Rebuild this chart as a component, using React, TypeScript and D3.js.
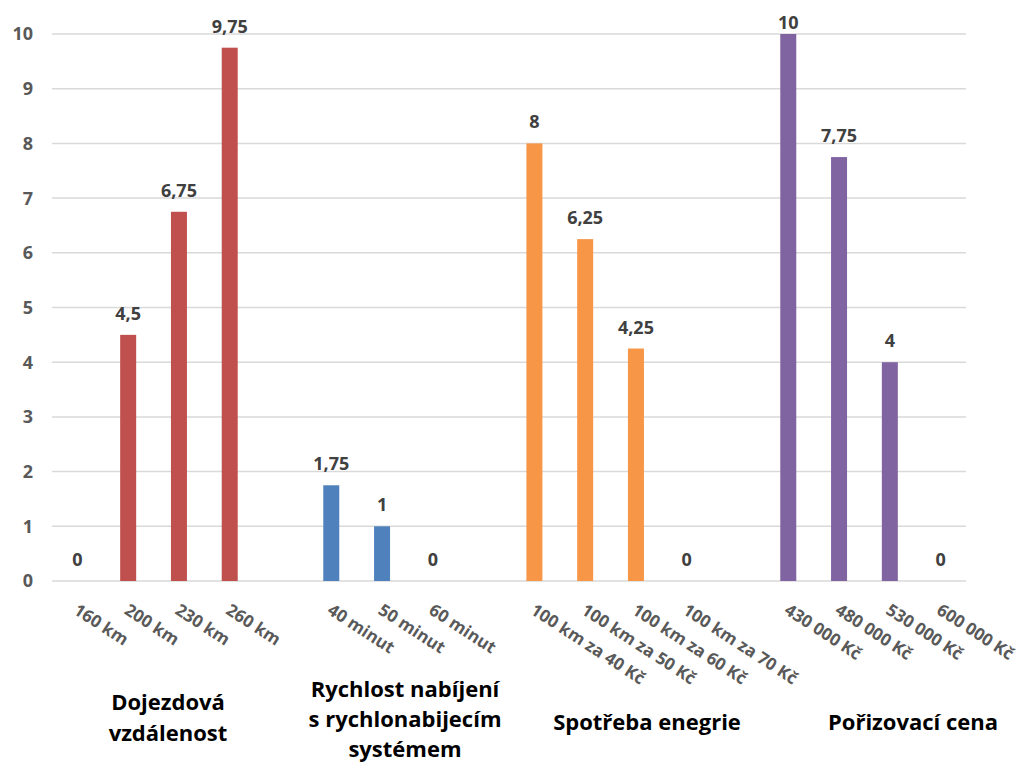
import React from "react";
import * as d3 from "d3";

// Score of each option within the four evaluated criteria
const rangeCategories = ["160 km", "200 km", "230 km", "260 km"];
const rangeScores = [0, 4.5, 6.75, 9.75];

const chargeCategories = ["40 minut", "50 minut", "60 minut"];
const chargeScores = [1.75, 1, 0];

const consumptionCategories = ["100 km za 40 Kč", "100 km za 50 Kč", "100 km za 60 Kč", "100 km za 70 Kč"];
const consumptionScores = [8, 6.25, 4.25, 0];

const priceCategories = ["430 000 Kč", "480 000 Kč", "530 000 Kč", "600 000 Kč"];
const priceScores = [10, 7.75, 4, 0];

const groupTitles = [
  ["Dojezdová", "vzdálenost"],
  ["Rychlost nabíjení", "s rychlonabijecím", "systémem"],
  ["Spotřeba enegrie"],
  ["Pořizovací cena"],
];
const groupColors = ["#C0504D", "#4F81BD", "#F79646", "#8064A2"];

const yTicks = [0, 1, 2, 3, 4, 5, 6, 7, 8, 9, 10];

type Slot = { key: string; label: string; value: number | null; group: number };

const groupsData = [
  { cats: rangeCategories, vals: rangeScores },
  { cats: chargeCategories, vals: chargeScores },
  { cats: consumptionCategories, vals: consumptionScores },
  { cats: priceCategories, vals: priceScores },
];

// Flatten groups into one axis, with an empty slot separating consecutive groups
const slots: Slot[] = [];
groupsData.forEach((g, gi) => {
  g.cats.forEach((c, i) => slots.push({ key: `${gi}-${c}`, label: c, value: g.vals[i], group: gi }));
  if (gi < groupsData.length - 1) slots.push({ key: `gap-${gi}`, label: "", value: null, group: gi });
});

const fmt = (v: number) => String(v).replace(".", ",");

const W = 1024;
const H = 764;
const left = 52;
const right = 966;
const top = 34;
const bottom = 581;
const barW = 16;
const font = "'Open Sans', 'Noto Sans', sans-serif";

// Title placement for each group (centre x, first baseline, line spacing)
const titleLayout = [
  { x: 168, y: 710, dy: 31 },
  { x: 405, y: 697, dy: 30 },
  { x: 647, y: 730, dy: 30 },
  { x: 913, y: 730, dy: 30 },
];

export default function App() {
  const x = d3.scaleBand<string>().domain(slots.map((s) => s.key)).range([left, right]).paddingInner(0).paddingOuter(0);
  const y = d3.scaleLinear().domain([0, 10]).range([bottom, top]);
  const cx = (k: string) => (x(k) ?? 0) + x.bandwidth() / 2;

  return (
    <svg width={W} height={H} style={{ position: "absolute", left: 0, top: 0, background: "#fff" }} fontFamily={font}>
      {/* horizontal gridlines */}
      {yTicks.map((t) => (
        <line key={`g${t}`} x1={left} x2={right} y1={y(t)} y2={y(t)} stroke="#d9d9d9" strokeWidth={1.5} />
      ))}
      {/* y-axis tick labels */}
      {yTicks.map((t) => (
        <text key={`y${t}`} x={33} y={y(t)} dy="0.36em" textAnchor="end" fontSize={18} fontWeight={700} fill="#595959">
          {t}
        </text>
      ))}
      {/* bars */}
      {slots
        .filter((s) => s.value !== null)
        .map((s) => (
          <rect
            key={`b${s.key}`}
            x={cx(s.key) - barW / 2}
            y={y(s.value as number)}
            width={barW}
            height={y(0) - y(s.value as number)}
            fill={groupColors[s.group]}
          />
        ))}
      {/* value labels, kept inside the chart area at the top */}
      {slots
        .filter((s) => s.value !== null)
        .map((s) => (
          <text
            key={`v${s.key}`}
            x={cx(s.key)}
            y={Math.max(y(s.value as number) - 15, 29)}
            textAnchor="middle"
            fontSize={18}
            fontWeight={700}
            fill="#404040"
          >
            {fmt(s.value as number)}
          </text>
        ))}
      {/* rotated category labels */}
      {slots
        .filter((s) => s.label)
        .map((s) => (
          <text
            key={`c${s.key}`}
            transform={`translate(${cx(s.key) - 5},${613}) rotate(33)`}
            fontSize={17}
            fontWeight={700}
            fill="#595959"
          >
            {s.label}
          </text>
        ))}
      {/* group titles */}
      {groupTitles.map((lines, gi) => (
        <text key={`t${gi}`} textAnchor="middle" fontSize={22} fontWeight={700} fill="#000">
          {lines.map((ln, li) => (
            <tspan key={li} x={titleLayout[gi].x} y={titleLayout[gi].y + li * titleLayout[gi].dy}>
              {ln}
            </tspan>
          ))}
        </text>
      ))}
    </svg>
  );
}
